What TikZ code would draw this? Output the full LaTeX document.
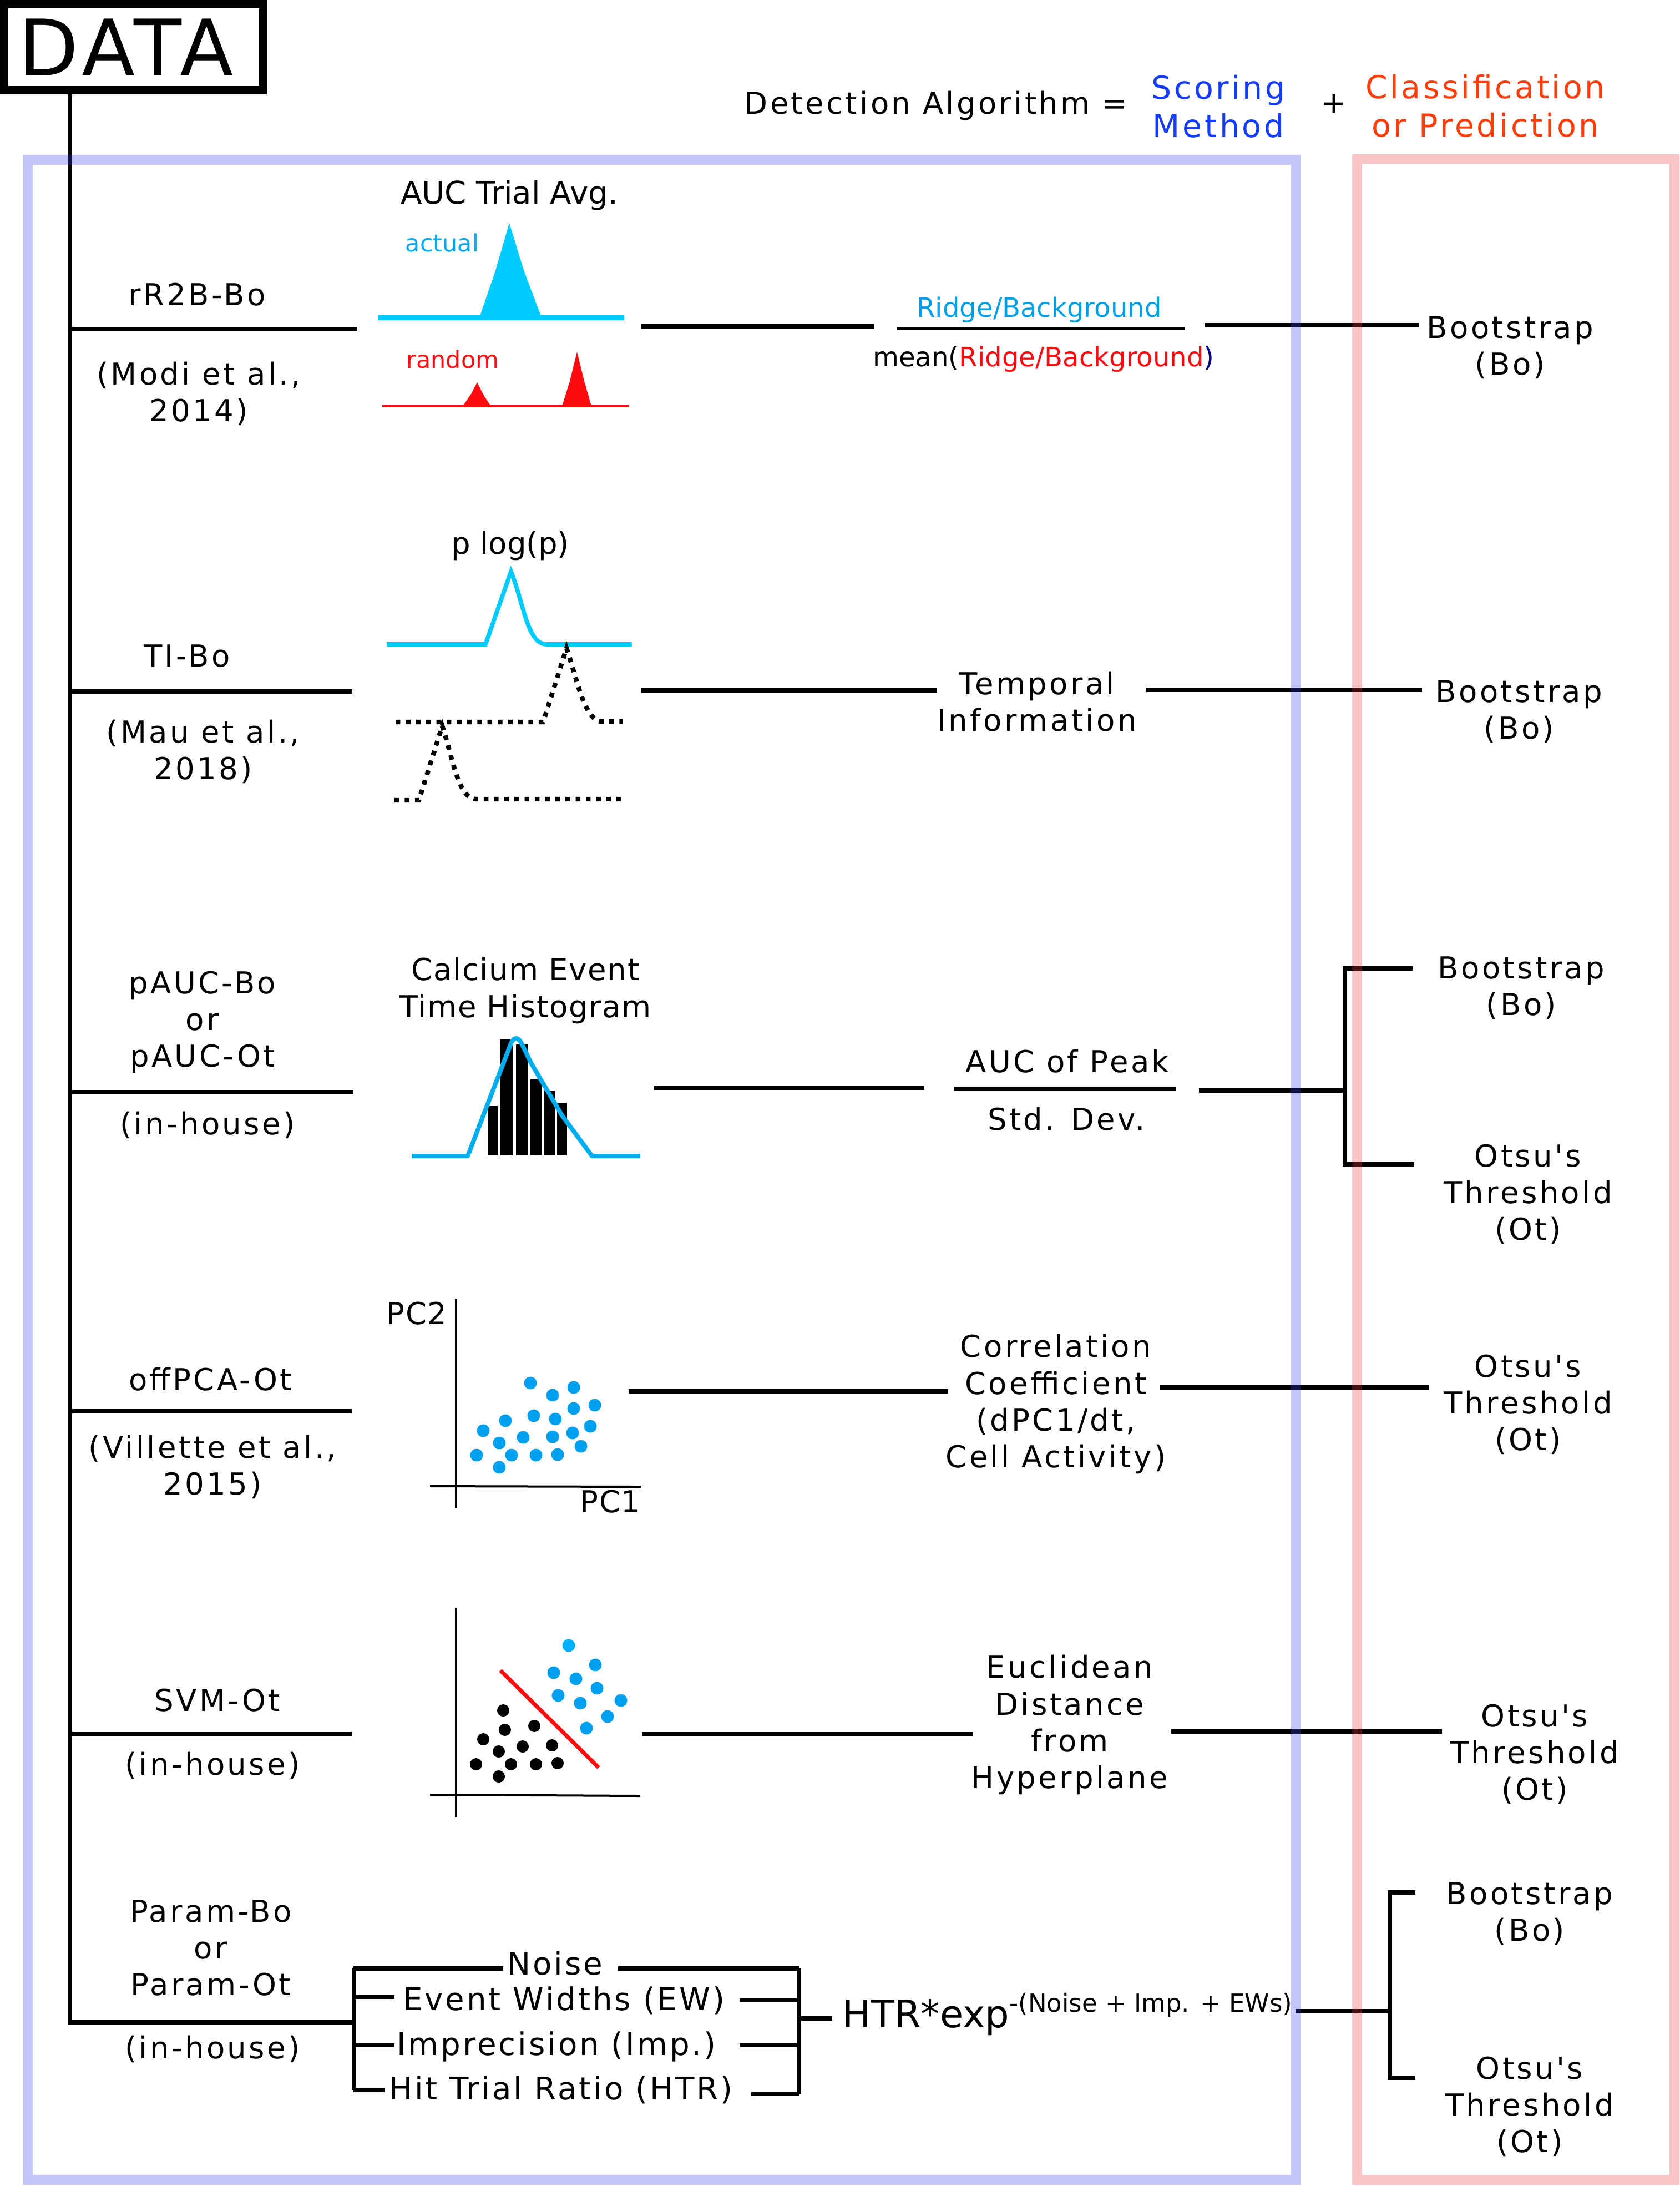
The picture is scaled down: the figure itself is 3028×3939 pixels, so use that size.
\documentclass[tikz,border=0pt]{standalone}
\usepackage{fontspec}
\setmainfont{DejaVu Sans}
\newfontfamily\fmain[LetterSpace=8]{DejaVu Sans}
\newfontfamily\fplot[LetterSpace=3]{DejaVu Sans}
\newfontfamily\fparam[LetterSpace=7]{DejaVu Sans}
\newfontfamily\fdata[LetterSpace=6]{DejaVu Sans}
\definecolor{boxblue}{RGB}{58,65,232}
\definecolor{boxred}{RGB}{235,58,58}
\definecolor{scoreblue}{RGB}{20,60,255}
\definecolor{classred}{RGB}{255,60,10}
\definecolor{cyanc}{RGB}{0,204,255}
\definecolor{actualc}{RGB}{0,170,240}
\definecolor{ridgec}{RGB}{0,160,230}
\definecolor{redc}{RGB}{255,10,15}
\definecolor{dotblue}{RGB}{0,160,240}
\definecolor{dotblue2}{RGB}{0,175,255}
\definecolor{histc}{RGB}{0,174,239}
\definecolor{navyc}{RGB}{0,0,130}
\tikzset{
  mainlbl/.style={font=\fmain\fontsize{15.5pt}{18.8pt}\selectfont, align=center, inner sep=0pt},
  headlbl/.style={font=\fmain\fontsize{15.5pt}{19.6pt}\selectfont, align=center, inner sep=0pt},
  headclr/.style={font=\fmain\fontsize{16.2pt}{19.6pt}\selectfont, align=center, inner sep=0pt},
  plotlbl/.style={font=\fplot\fontsize{15.5pt}{19pt}\selectfont, align=center, inner sep=0pt},
  plainlbl/.style={font=\fontsize{15.5pt}{19pt}\selectfont, inner sep=0pt},
  smalllbl/.style={font=\fontsize{12.2pt}{14pt}\selectfont, inner sep=0pt},
  fraclbl/.style={font=\fontsize{13.7pt}{16pt}\selectfont, inner sep=0pt},
  paramlbl/.style={font=\fparam\fontsize{16pt}{19pt}\selectfont, inner sep=0pt},
  conn/.style={line width=0.08cm},
  brk/.style={line width=0.07cm},
  axisline/.style={line width=0.04cm},
  dotcurve/.style={line width=0.084cm, dash pattern=on 0.084cm off 0.1cm},
  framebox/.style={draw opacity=0.3, line width=0.175cm},
}
\begin{document}
\begin{tikzpicture}[x=0.01cm,y=-0.01cm]
\useasboundingbox (0,0) rectangle (3028,3939);

% ---------- DATA and trunk ----------
\node[draw, line width=0.15cm, minimum width=4.675cm, minimum height=1.55cm, inner sep=0pt] (data) at (241,85) {};
\node[inner sep=0pt, font=\fdata\fontsize{40pt}{42pt}\selectfont] (datatxt) at (227,85) {DATA};
\coordinate (trunkTop) at (126,162);
\coordinate (trunkBot) at (126,3644);

% ---------- header ----------
\node[headlbl] (detect) at (1687,190) {Detection Algorithm =};
\node[headclr, text=scoreblue] (scoring) at (2196,192) {Scoring\\Method};
\node[headlbl] (plus) at (2404,187) {+};
\node[headclr, text=classred] (classif) at (2677,191) {Classification\\or Prediction};

% ---------- left labels ----------
\node[mainlbl] (l1) at (355,531) {rR2B-Bo};
\node[mainlbl] (l1b) at (358,709) {(Modi et al.,\\2014)};
\node[mainlbl] (l2) at (337,1182) {TI-Bo};
\node[mainlbl] (l2b) at (366,1354) {(Mau et al.,\\2018)};
\node[mainlbl] (l3) at (365,1842) {pAUC-Bo\\or\\pAUC-Ot};
\node[mainlbl] (l3b) at (374,2027) {(in-house)};
\node[mainlbl] (l4) at (379,2485) {offPCA-Ot};
\node[mainlbl] (l4b) at (383,2643) {(Villette et al.,\\2015)};
\node[mainlbl] (l5) at (392,3064) {SVM-Ot};
\node[mainlbl] (l5b) at (383,3181) {(in-house)};
\node[mainlbl] (l6) at (380,3510) {Param-Bo\\or\\Param-Ot};
\node[mainlbl] (l6b) at (383,3692) {(in-house)};

% left row lines
\coordinate (r1a) at (126,593);  \coordinate (r1b) at (644,593);
\coordinate (r2a) at (126,1246); \coordinate (r2b) at (635,1246);
\coordinate (r3a) at (126,1968); \coordinate (r3b) at (637,1968);
\coordinate (r4a) at (126,2543); \coordinate (r4b) at (634,2543);
\coordinate (r5a) at (126,3125); \coordinate (r5b) at (634,3125);
\coordinate (r6b) at (637,3644);
\draw[conn] (trunkTop) -- (trunkBot) -- (r6b);
\draw[conn] (r1a) -- (r1b);
\draw[conn] (r2a) -- (r2b);
\draw[conn] (r3a) -- (r3b);
\draw[conn] (r4a) -- (r4b);
\draw[conn] (r5a) -- (r5b);

% ---------- row 1 graphic ----------
\node[plainlbl, font=\fontsize{16pt}{19pt}\selectfont, anchor=base] (auc) at (918,367) {AUC Trial Avg.};
\fill[cyanc] (864,572) -- (892,491) -- (918,402) -- (944,487) -- (976,572) -- cycle;
\draw[cyanc, line width=0.09cm] (681,572) -- (1125,572);
\node[smalllbl, text=actualc, anchor=base] (actual) at (797,453) {actual};
\fill[redc] (834,732) -- (849,710) -- (860,689) -- (872,713) -- (885,732) -- cycle;
\fill[redc] (1013,732) -- (1027,687) -- (1040,634) -- (1053,687) -- (1066,732) -- cycle;
\draw[redc, line width=0.045cm] (689,732) -- (1134,732);
\node[smalllbl, text=redc, anchor=base] (random) at (816,663) {random};

% row 1 scoring
\coordinate (m1a) at (1156,588); \coordinate (m1b) at (1576,588);
\draw[conn] (m1a) -- (m1b);
\node[fraclbl, text=ridgec, anchor=base] (num1) at (1873,571) {Ridge/Background};
\coordinate (bar1a) at (1616,592); \coordinate (bar1b) at (2136,592);
\draw[line width=0.05cm] (bar1a) -- (bar1b);
\node[fraclbl, anchor=base] (den1) at (1881,660) {mean(\textcolor{redc}{Ridge/Background}\textcolor{navyc}{)}};
\coordinate (c1a) at (2171,586); \coordinate (c1b) at (2558,586);
\draw[conn] (c1a) -- (c1b);
\node[mainlbl] (bo1) at (2722,626) {Bootstrap\\(Bo)};

% ---------- row 2 graphic ----------
\node[plainlbl, anchor=base] (plog) at (920,998) {p log(p)};
\draw[cyanc, line width=0.077cm] (697,1161) -- (875,1161) -- (921,1030)
   .. controls (945,1090) and (950,1160) .. (985,1161) -- (1139,1161);
\draw[dotcurve] (713,1301) -- (979,1301) -- (1021,1168)
   .. controls (1038,1215) and (1052,1298) .. (1084,1300) -- (1122,1300);
\draw[dotcurve] (711,1442) -- (755,1442) -- (797,1308)
   .. controls (815,1360) and (825,1440) .. (858,1440) -- (1123,1440);

\coordinate (m2a) at (1155,1244); \coordinate (m2b) at (1688,1244);
\draw[conn] (m2a) -- (m2b);
\node[mainlbl] (temp) at (1869,1264) {Temporal\\Information};
\coordinate (c2a) at (2066,1243); \coordinate (c2b) at (2563,1243);
\draw[conn] (c2a) -- (c2b);
\node[mainlbl] (bo2) at (2738,1282) {Bootstrap\\(Bo)};

% ---------- row 3 graphic ----------
\node[plotlbl, font=\fplot\fontsize{15.5pt}{19.06pt}\selectfont] (calc) at (947,1785) {Calcium Event\\Time Histogram};
\fill (879,1993) rectangle (897,2082);
\fill (902,1873) rectangle (924,2082);
\fill (930,1882) rectangle (952,2082);
\fill (955,1945) rectangle (977,2082);
\fill (981,1965) rectangle (1001,2082);
\fill (1004,1987) rectangle (1022,2082);
\draw[histc, line width=0.08cm, line join=round] (742,2083) -- (843,2083) -- (921,1880)
   .. controls (926,1868) and (934,1868) .. (940,1880) -- (958,1917) -- (1013,2010) -- (1067,2083) -- (1154,2083);

\coordinate (m3a) at (1178,1960); \coordinate (m3b) at (1666,1960);
\draw[conn] (m3a) -- (m3b);
\node[mainlbl] (aucpk) at (1924,1912) {AUC of Peak};
\coordinate (bar3a) at (1720,1962); \coordinate (bar3b) at (2120,1962);
\draw[conn] (bar3a) -- (bar3b);
\node[mainlbl] (std) at (1922,2016) {Std. Dev.};
\coordinate (c3a) at (2161,1965); \coordinate (c3j) at (2424,1965);
\coordinate (c3t) at (2546,1745); \coordinate (c3u) at (2548,2098);
\draw[conn] (c3a) -- (c3j);
\draw[conn] (c3t) -- (c3t -| c3j) -- (c3u -| c3j) -- (c3u);
\node[mainlbl] (bo3) at (2742,1780) {Bootstrap\\(Bo)};
\node[mainlbl] (ot3) at (2754,2152) {Otsu's\\Threshold\\(Ot)};

% ---------- row 4 graphic ----------
\draw[axisline] (822,2340) -- (822,2717);
\draw[axisline] (775,2678) -- (1155,2679);
\node[plotlbl, anchor=base] (pc2) at (751,2386) {PC2};
\node[plotlbl, anchor=base] (pc1) at (1100,2725) {PC1};
\foreach \a/\b in {956/2492, 996/2514, 1034/2500, 1072/2532, 1034/2538, 962/2551, 1001/2557,
   911/2560, 871/2578, 1064/2570, 1032/2582, 996/2589, 943/2590, 900/2600, 1047/2606,
   859/2622, 922/2622, 966/2622, 1005/2621, 900/2644}
  \fill[dotblue] (\a,\b) circle (0.115cm);

\coordinate (m4a) at (1133,2507); \coordinate (m4b) at (1709,2507);
\draw[conn] (m4a) -- (m4b);
\node[mainlbl] (corr) at (1903,2530) {Correlation\\Coefficient\\(dPC1/dt,\\Cell Activity)};
\coordinate (c4a) at (2091,2500); \coordinate (c4b) at (2576,2500);
\draw[conn] (c4a) -- (c4b);
\node[mainlbl] (ot4) at (2754,2531) {Otsu's\\Threshold\\(Ot)};

% ---------- row 5 graphic ----------
\draw[axisline] (822,2897) -- (822,3274);
\draw[axisline] (775,3234) -- (1154,3236);
\fill[dotblue2] (1025,2965) circle (0.115cm);
\foreach \a/\b in {1073/3000, 998/3014, 1038/3025, 1076/3042, 1006/3055, 1046/3069,
   1119/3064, 1095/3093, 1057/3114}
  \fill[dotblue] (\a,\b) circle (0.115cm);
\foreach \a/\b in {907/3082, 910/3117, 963/3110, 871/3134, 942/3147, 995/3145, 899/3156,
   858/3179, 921/3179, 966/3179, 1005/3177, 899/3201}
  \fill[black] (\a,\b) circle (0.11cm);
\draw[redc, line width=0.07cm] (902,3010) -- (1079,3185);

\coordinate (m5a) at (1157,3125); \coordinate (m5b) at (1754,3125);
\draw[conn] (m5a) -- (m5b);
\node[mainlbl] (eucl) at (1928,3108) {Euclidean\\Distance\\from\\Hyperplane};
\coordinate (c5a) at (2111,3120); \coordinate (c5b) at (2599,3120);
\draw[conn] (c5a) -- (c5b);
\node[mainlbl] (ot5) at (2766,3161) {Otsu's\\Threshold\\(Ot)};

% ---------- row 6 ----------
\coordinate (pl) at (637,3547);
\coordinate (plb) at (637,3766);
\draw[brk] (pl) -- (plb);
\draw[conn] (pl) -- (907,3547);
\draw[brk] (637,3598) -- (711,3598);
\draw[brk] (637,3685) -- (711,3685);
\draw[conn] (plb) -- (694,3766);
\node[paramlbl] (noise) at (1000,3537) {Noise};
\node[paramlbl] (ew) at (1016,3605) {Event Widths (EW)};
\node[paramlbl] (imp) at (1003,3688) {Imprecision (Imp.)};
\node[paramlbl] (hit) at (1011,3766) {Hit Trial Ratio (HTR)};
\coordinate (pr) at (1440,3547);
\coordinate (prb) at (1440,3773);
\draw[conn] (1114,3547) -- (pr);
\draw[brk] (pr) -- (prb);
\draw[brk] (1333,3604) -- (1440,3604);
\draw[brk] (1333,3685) -- (1440,3685);
\draw[brk] (1354,3773) -- (prb);
\coordinate (pout) at (1440,3637); \coordinate (pout2) at (1500,3637);
\draw[conn] (pout) -- (pout2);
\node[anchor=base west, inner sep=0pt, font=\fontsize{19.5pt}{22pt}\selectfont] (htr) at (1518,3653)
   {HTR*exp\raisebox{0.28cm}{\fontsize{12.8pt}{14pt}\selectfont -(Noise + Imp. + EWs)}};
\coordinate (c6a) at (2335,3624); \coordinate (c6j) at (2505,3624);
\coordinate (c6t) at (2551,3410); \coordinate (c6u) at (2551,3744);
\draw[conn] (c6a) -- (c6j);
\draw[conn] (c6t) -- (c6t -| c6j) -- (c6u -| c6j) -- (c6u);
\node[mainlbl] (bo6) at (2757,3448) {Bootstrap\\(Bo)};
\node[mainlbl] (ot6) at (2757,3796) {Otsu's\\Threshold\\(Ot)};

% ---------- frames ----------
\draw[framebox, draw=boxblue] (50,288) rectangle (2335,3928);
\draw[framebox, draw=boxred] (2446,287) rectangle (3018,3928);
\end{tikzpicture}
\end{document}
